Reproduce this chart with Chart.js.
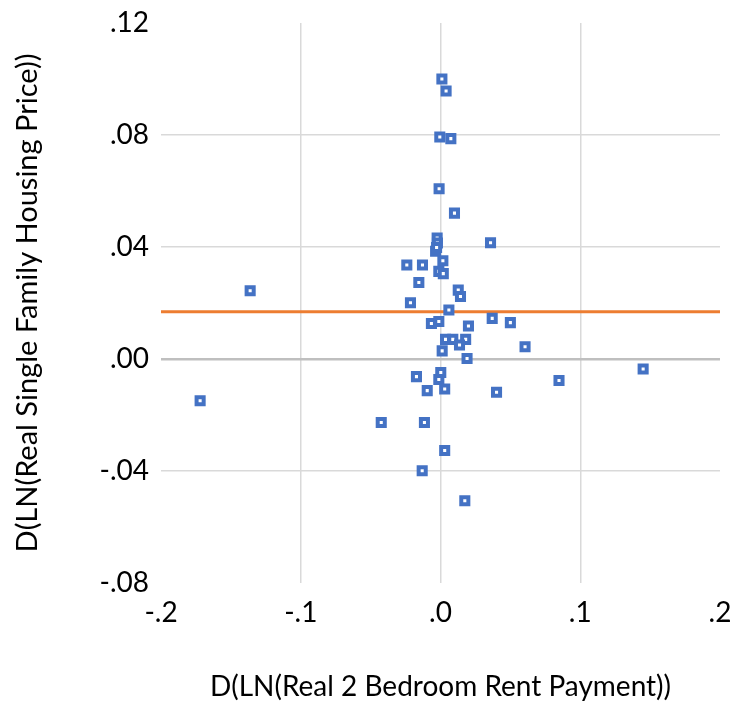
<!DOCTYPE html>
<html>
<head>
<meta charset="utf-8">
<script src="https://cdn.jsdelivr.net/npm/chart.js@4.4.1/dist/chart.umd.min.js"></script>
<style>
  html, body { margin: 0; padding: 0; background: #ffffff; }
  #wrap { width: 736px; height: 710px; }
</style>
</head>
<body>
<div id="wrap"><canvas id="c" width="736" height="710"></canvas></div>
<script>
// Annual changes: log real 2-bedroom rent vs. log real single-family price
const rentChange = [
  0.001, 0.004, -0.0005, 0.0074, -0.001, 0.010,
  -0.0024, -0.0022, -0.0035, -0.0028, 0.0358,
  -0.0241, -0.0129, 0.0017, -0.0012, 0.0020, -0.0155,
  0.0127, 0.0143, -0.0215, 0.0060, -0.0065, -0.0012,
  0.0200, 0.0370, 0.0500, 0.0036, 0.0088, 0.0180,
  0.0136, 0.0012, 0.0190, 0.0605, 0.1450, 0.0848,
  0.0002, -0.0012, -0.0172, -0.0095, 0.0030, 0.0401,
  -0.0424, -0.0115, 0.0030, -0.0131, 0.0174,
  -0.1362, -0.1720
];
const priceChange = [
  0.1000, 0.0957, 0.0793, 0.0787, 0.0608, 0.0521,
  0.0432, 0.0414, 0.0385, 0.0398, 0.0415,
  0.0336, 0.0336, 0.0351, 0.0313, 0.0305, 0.0273,
  0.0246, 0.0223, 0.0201, 0.0175, 0.0127, 0.0134,
  0.0118, 0.0145, 0.0130, 0.0070, 0.0070, 0.0070,
  0.0050, 0.0029, 0.0002, 0.0044, -0.0036, -0.0077,
  -0.0048, -0.0073, -0.0063, -0.0113, -0.0107, -0.0119,
  -0.0227, -0.0227, -0.0327, -0.0399, -0.0506,
  0.0244, -0.0149
];
// Horizontal reference level for the price changes
const meanPrice = 0.0169;

const xTickLabels = { '-0.2': '-.2', '-0.1': '-.1', '0': '.0', '0.1': '.1', '0.2': '.2' };
const yTickLabels = { '0.12': '.12', '0.08': '.08', '0.04': '.04', '0': '.00', '-0.04': '-.04', '-0.08': '-.08' };

const points = rentChange.map((x, i) => ({ x: x, y: priceChange[i] }));
const meanSegment = [{ x: -0.2, y: meanPrice }, { x: 0.2, y: meanPrice }];

const FONT = 'Lato, "Open Sans", sans-serif';
const round = v => String(Math.round(v * 100) / 100);

new Chart(document.getElementById('c'), {
  type: 'scatter',
  data: {
    datasets: [
      {
        type: 'line',
        data: meanSegment,
        borderColor: '#ED7D31',
        borderWidth: 3,
        pointRadius: 0,
        fill: false,
        order: 2
      },
      {
        data: points,
        pointStyle: 'rect',
        pointRadius: 5,
        pointBorderWidth: 4,
        pointBackgroundColor: '#ffffff',
        pointBorderColor: '#4472C4',
        order: 1
      }
    ]
  },
  options: {
    responsive: false,
    animation: false,
    devicePixelRatio: 1,
    layout: { padding: { left: 10, right: 16, top: 23, bottom: 6 } },
    plugins: { legend: { display: false }, tooltip: { enabled: false } },
    scales: {
      x: {
        type: 'linear',
        min: -0.2,
        max: 0.2,
        afterFit: s => { s.height = 121; s.paddingLeft = 0; s.paddingRight = 0; },
        border: { display: false },
        grid: {
          drawTicks: false,
          color: c => (Math.abs(c.tick.value) > 0.15 ? 'rgba(0,0,0,0)' : '#d9d9d9'),
          lineWidth: 1.5
        },
        ticks: {
          stepSize: 0.1,
          padding: 13,
          color: '#000000',
          font: { family: FONT, size: 28 },
          callback: v => xTickLabels[round(v)] ?? ''
        },
        title: {
          display: true,
          text: 'D(LN(Real 2 Bedroom Rent Payment))',
          color: '#000000',
          font: { family: FONT, size: 28 },
          padding: { top: 0, bottom: 0 }
        }
      },
      y: {
        type: 'linear',
        min: -0.08,
        max: 0.12,
        afterFit: s => { s.width = 151; s.paddingTop = 0; s.paddingBottom = 0; },
        border: { display: false },
        grid: {
          drawTicks: false,
          color: c => {
            const v = round(c.tick.value);
            if (v === '0') return '#bfbfbf';
            if (v === '0.12' || v === '-0.08') return 'rgba(0,0,0,0)';
            return '#d9d9d9';
          },
          lineWidth: c => (round(c.tick.value) === '0' ? 2.5 : 1.5)
        },
        ticks: {
          stepSize: 0.04,
          padding: 12,
          color: '#000000',
          font: { family: FONT, size: 28 },
          callback: v => yTickLabels[round(v)] ?? ''
        },
        title: {
          display: true,
          text: 'D(LN(Real Single Family Housing Price))',
          color: '#000000',
          font: { family: FONT, size: 29 },
          padding: { top: 0, bottom: 0 }
        }
      }
    }
  }
});
</script>
</body>
</html>
